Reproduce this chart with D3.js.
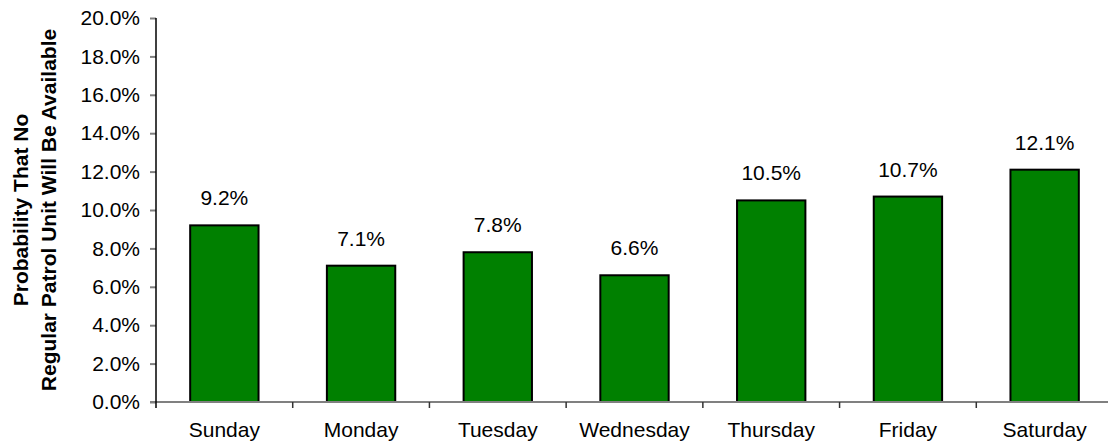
<!DOCTYPE html>
<html>
<head>
<meta charset="utf-8">
<script src="https://cdn.jsdelivr.net/npm/d3@7"></script>
<style>
  body { margin: 0; background: #fff; }
  text { font-family: Arial, "Liberation Sans", sans-serif; fill: #000; }
</style>
</head>
<body>
<svg></svg>
<script>
  // Chart data
  var days = ["Sunday", "Monday", "Tuesday", "Wednesday", "Thursday", "Friday", "Saturday"];
  var probability = [9.2, 7.1, 7.8, 6.6, 10.5, 10.7, 12.1];
  var yTicks = [0, 2, 4, 6, 8, 10, 12, 14, 16, 18, 20];

  var margin = { top: 18, right: 0, bottom: 45, left: 156 };
  var width = 1113 - margin.left;
  var height = 402 - margin.top;

  var svg = d3.select("svg")
    .attr("width", 1108)
    .attr("height", 447)
    .append("g")
    .attr("transform", "translate(" + margin.left + "," + margin.top + ")");

  var xScale = d3.scaleBand()
    .domain(days)
    .range([0, width])
    .paddingInner(0.5)
    .paddingOuter(0.25);

  var yScale = d3.scaleLinear()
    .domain([0, 20])
    .range([height, 0]);

  // Bars
  svg.selectAll("rect.bar")
    .data(days)
    .enter()
    .append("rect")
    .attr("class", "bar")
    .attr("x", function(d) { return xScale(d); })
    .attr("y", function(d, i) { return yScale(probability[i]); })
    .attr("width", xScale.bandwidth())
    .attr("height", function(d, i) { return height - yScale(probability[i]); })
    .attr("fill", "#008000")
    .attr("stroke", "#000")
    .attr("stroke-width", 2);

  // Value labels
  svg.selectAll(".bar-label")
    .data(days)
    .enter()
    .append("text")
    .attr("class", "bar-label")
    .attr("x", function(d) { return xScale(d) + xScale.bandwidth() / 2; })
    .attr("y", function(d, i) { return yScale(probability[i]) - 20; })
    .attr("text-anchor", "middle")
    .style("font-size", "21px")
    .text(function(d, i) { return probability[i].toFixed(1) + "%"; });

  // X axis (gray line, ticks between categories)
  var xAxisG = svg.append("g")
    .attr("transform", "translate(0," + height + ")");
  xAxisG.append("line")
    .attr("x1", -6).attr("x2", width)
    .attr("stroke", "#808080").attr("stroke-width", 2);
  xAxisG.selectAll(".xtick")
    .data(days.slice(1))
    .enter()
    .append("line")
    .attr("x1", function(d) { return xScale(d) - xScale.step() * 0.25; })
    .attr("x2", function(d) { return xScale(d) - xScale.step() * 0.25; })
    .attr("y1", 0).attr("y2", 6)
    .attr("stroke", "#333").attr("stroke-width", 1.5);
  xAxisG.selectAll(".xlabel")
    .data(days)
    .enter()
    .append("text")
    .attr("x", function(d) { return xScale(d) + xScale.bandwidth() / 2; })
    .attr("y", 35)
    .attr("text-anchor", "middle")
    .style("font-size", "21px")
    .text(function(d) { return d; });

  // Y axis
  var yAxis = d3.axisLeft(yScale)
    .tickValues(yTicks)
    .tickSize(6)
    .tickPadding(10)
    .tickSizeOuter(0)
    .tickFormat(function(d) { return d.toFixed(1) + "%"; });
  var yAxisG = svg.append("g").call(yAxis);
  yAxisG.select(".domain").remove();
  yAxisG.append("line")
    .attr("y1", 0).attr("y2", height + 6)
    .attr("stroke", "#000").attr("stroke-width", 1.5);
  yAxisG.selectAll(".tick line").attr("stroke", "#808080").attr("stroke-width", 2);
  yAxisG.selectAll(".tick text")
    .style("font-size", "21px")
    .style("font-family", "Arial, 'Liberation Sans', sans-serif")
    .attr("fill", "#000");

  // Y axis title
  var title = svg.append("text")
    .attr("transform", "translate(" + (-margin.left) + "," + (height / 2) + ") rotate(-90)")
    .attr("text-anchor", "middle")
    .style("font-size", "21px")
    .style("font-weight", "bold");
  title.append("tspan").attr("x", 0).attr("y", 28).text("Probability That No");
  title.append("tspan").attr("x", 0).attr("y", 56).text("Regular Patrol Unit Will Be Available");
</script>
</body>
</html>
